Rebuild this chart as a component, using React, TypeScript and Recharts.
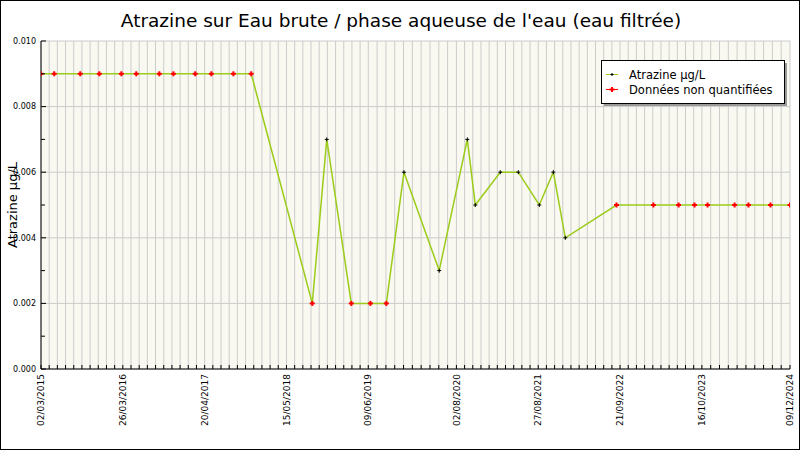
import React from 'react';
import { LineChart, Line, XAxis, YAxis, CartesianGrid } from 'recharts';

// sample dates, values (µg/L) and "non quantified" flags
const sampleDates = [
  '2015-03-02', '2015-05-04', '2015-09-05', '2015-12-05', '2016-03-19', '2016-05-29',
  '2016-09-16', '2016-11-22', '2017-03-06', '2017-05-22', '2017-09-04', '2017-11-28',
  '2018-09-15', '2018-11-23', '2019-03-20', '2019-06-19', '2019-09-03', '2019-11-26',
  '2020-05-12', '2020-09-23', '2020-10-31', '2021-02-27', '2021-05-24', '2021-09-01',
  '2021-11-07', '2022-01-03',
  '2022-09-04', '2023-02-27', '2023-06-27', '2023-09-11', '2023-11-12', '2024-03-20',
  '2024-05-25', '2024-09-07', '2024-12-09',
];

const atrazineValues = [
  0.009, 0.009, 0.009, 0.009, 0.009, 0.009,
  0.009, 0.009, 0.009, 0.009, 0.009, 0.009,
  0.002, 0.007, 0.002, 0.002, 0.002, 0.006,
  0.003, 0.007, 0.005, 0.006, 0.006, 0.005,
  0.006, 0.004,
  0.005, 0.005, 0.005, 0.005, 0.005, 0.005,
  0.005, 0.005, 0.005,
];

const nonQuantified = [
  true, true, true, true, true, true,
  true, true, true, true, true, true,
  true, false, true, true, true, false,
  false, false, false, false, false, false,
  false, false,
  true, true, true, true, true, true,
  true, true, true,
];

const xTickDates = [
  '2015-03-02', '2016-03-26', '2017-04-20', '2018-05-15', '2019-06-09',
  '2020-08-02', '2021-08-27', '2022-09-21', '2023-10-16', '2024-12-09',
];

const yTicks = [0, 0.001, 0.002, 0.003, 0.004, 0.005, 0.006, 0.007, 0.008, 0.009, 0.01];
const yMajor = [0, 0.002, 0.004, 0.006, 0.008, 0.01];

const toTime = (s: string) => {
  const [y, m, d] = s.split('-').map(Number);
  return Date.UTC(y, m - 1, d);
};

const fmtDate = (t: number) => {
  const d = new Date(t);
  const dd = String(d.getUTCDate()).padStart(2, '0');
  const mm = String(d.getUTCMonth() + 1).padStart(2, '0');
  return `${dd}/${mm}/${d.getUTCFullYear()}`;
};

const data = sampleDates.map((s, i) => ({
  t: toTime(s),
  value: atrazineValues[i],
  nq: nonQuantified[i],
}));

const majorTimes = xTickDates.map(toTime);

// minor grid: each interval between labelled dates split in ten
const minorTimes: number[] = [];
for (let i = 0; i < majorTimes.length - 1; i++) {
  const a = majorTimes[i];
  const b = majorTimes[i + 1];
  for (let k = 0; k < 10; k++) minorTimes.push(a + ((b - a) * k) / 10);
}
minorTimes.push(majorTimes[majorTimes.length - 1]);

const FONT = '"DejaVu Sans", sans-serif';
const LINE_COLOR = '#9ccc1a';

const XTick = (props: any) => {
  const { x, y, payload } = props;
  const isMajor = majorTimes.some((m) => Math.abs(m - payload.value) < 1000);
  return (
    <g>
      <line x1={x} x2={x} y1={y} y2={y - 4} stroke="#000" />
      {isMajor && (
        <text
          transform={`translate(${x},${y + 5}) rotate(-90)`}
          textAnchor="end"
          dy="0.35em"
          fontSize={9}
          fontFamily={FONT}
          fill="#000"
        >
          {fmtDate(payload.value)}
        </text>
      )}
    </g>
  );
};

const YTick = (props: any) => {
  const { x, y, payload } = props;
  const isMajor = yMajor.some((m) => Math.abs(m - payload.value) < 1e-7);
  return (
    <g>
      <line x1={x + 5} x2={x + 5 + (isMajor ? 5 : 4)} y1={y} y2={y} stroke="#000" />
      {isMajor && (
        <text x={x} y={y} dy="0.35em" textAnchor="end" fontSize={8} fontFamily={FONT} fill="#000">
          {payload.value.toFixed(3)}
        </text>
      )}
    </g>
  );
};

const SampleDot = (props: any) => {
  const { cx, cy, payload, index } = props;
  if (cx == null || cy == null) return <g key={index} />;
  if (payload.nq) {
    return (
      <g key={index}>
        <line x1={cx - 2.5} x2={cx + 2.5} y1={cy} y2={cy} stroke="#ff0000" strokeWidth={2} />
        <line x1={cx} x2={cx} y1={cy - 2.5} y2={cy + 2.5} stroke="#ff0000" strokeWidth={2} />
      </g>
    );
  }
  return (
    <g key={index}>
      <line x1={cx - 2} x2={cx + 2} y1={cy} y2={cy} stroke="#000" strokeWidth={1} />
      <line x1={cx} x2={cx} y1={cy - 2} y2={cy + 2} stroke="#000" strokeWidth={1} />
    </g>
  );
};

export default function App() {
  return (
    <div style={{ position: 'fixed', left: 0, top: 0, width: 800, height: 450, background: '#fff' }}>
      <LineChart width={800} height={450} data={data} margin={{ top: 41, right: 10, bottom: 0, left: 0 }}>
        <CartesianGrid
          fill="#f9f9f1"
          stroke="#cccccc"
          verticalValues={minorTimes}
          horizontalValues={yMajor}
        />
        <XAxis
          dataKey="t"
          type="number"
          domain={[majorTimes[0], majorTimes[majorTimes.length - 1]]}
          allowDataOverflow
          ticks={minorTimes}
          interval={0}
          tickSize={0}
          tickMargin={0}
          tick={<XTick />}
          height={81}
          axisLine={{ stroke: '#000' }}
        />
        <YAxis
          type="number"
          domain={[0, 0.01]}
          ticks={yTicks}
          interval={0}
          tickSize={0}
          tickMargin={5}
          tick={<YTick />}
          width={41}
          axisLine={{ stroke: '#000' }}
        />
        <Line
          type="linear"
          dataKey="value"
          stroke={LINE_COLOR}
          strokeWidth={1.5}
          dot={(p: any) => <SampleDot key={p.index} {...p} />}
          activeDot={false}
          isAnimationActive={false}
        />
      </LineChart>
      <svg
        width={800}
        height={450}
        style={{ position: 'absolute', left: 0, top: 0, pointerEvents: 'none' }}
      >
        <text x={401} y={27} textAnchor="middle" fontSize={18.5} fontFamily={FONT} fill="#000">
          Atrazine sur Eau brute / phase aqueuse de l'eau (eau filtrée)
        </text>
        <text
          transform="translate(17,205) rotate(-90)"
          textAnchor="middle"
          fontSize={13}
          fontFamily={FONT}
          fill="#000"
        >
          Atrazine µg/L
        </text>
        {/* legend */}
        <rect x={604} y={63} width={183} height={43} fill="#999" />
        <rect x={601.5} y={60.5} width={183} height={43} fill="#fff" stroke="#000" />
        <line x1={606} x2={618} y1={74.5} y2={74.5} stroke={LINE_COLOR} />
        <line x1={610.5} x2={613.5} y1={74.5} y2={74.5} stroke="#000" />
        <line x1={612} x2={612} y1={73} y2={76} stroke="#000" />
        <text x={629} y={74.5} dy="0.35em" fontSize={11.5} fontFamily={FONT} fill="#000">
          Atrazine µg/L
        </text>
        <line x1={606} x2={618} y1={89.5} y2={89.5} stroke="#ff0000" />
        <line x1={609.5} x2={614.5} y1={89.5} y2={89.5} stroke="#ff0000" strokeWidth={2} />
        <line x1={612} x2={612} y1={87} y2={92} stroke="#ff0000" strokeWidth={2} />
        <text x={629} y={89.5} dy="0.35em" fontSize={11.5} fontFamily={FONT} fill="#000">
          Données non quantifiées
        </text>
        <rect x={0.5} y={0.5} width={799} height={449} fill="none" stroke="#000" />
      </svg>
    </div>
  );
}
